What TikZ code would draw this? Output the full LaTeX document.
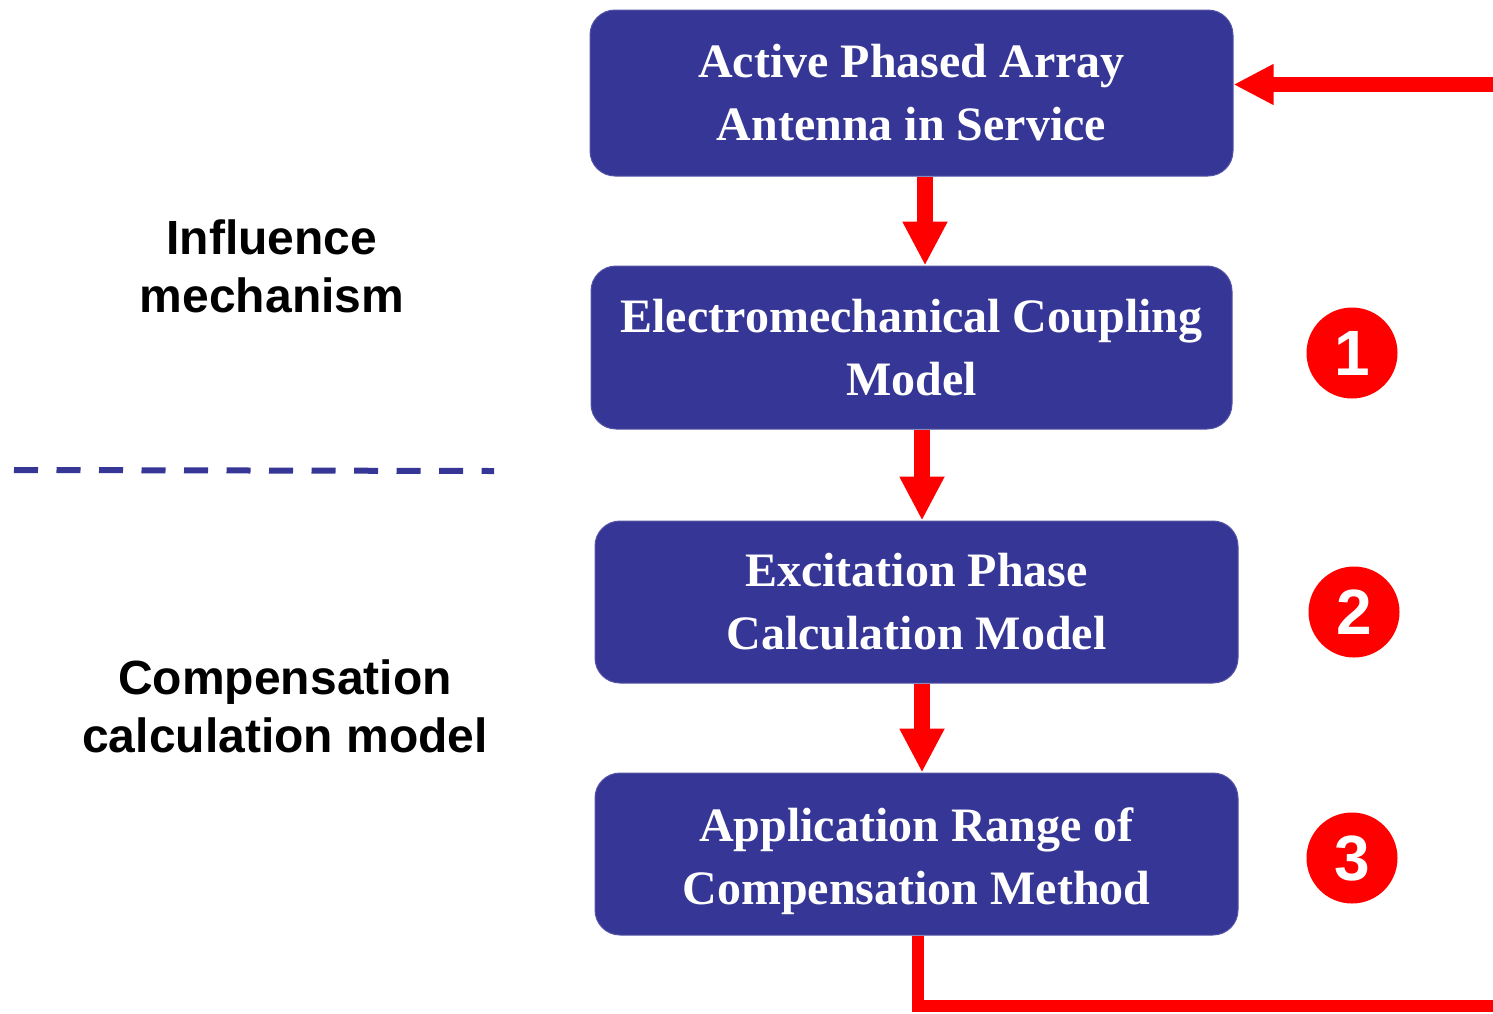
\documentclass[tikz,border=0pt]{standalone}
\usepackage{fontspec}
\setmainfont{Liberation Serif}
\newfontfamily\labelfont{Liberation Sans}
\usetikzlibrary{arrows.meta}
\definecolor{boxblue}{RGB}{54,54,150}
\definecolor{flowred}{RGB}{255,0,0}
\tikzset{
  stage/.style={rectangle, rounded corners=25pt, fill=boxblue, draw=boxblue!85!white,
    line width=1pt, text=white, align=center,
    font=\fontsize{48pt}{63pt}\selectfont\bfseries},
  stagetext/.style={text=white, align=center,
    font=\fontsize{48pt}{63pt}\selectfont\bfseries},
  flow/.style={draw=flowred, line width=16pt,
    -{Triangle[length=44pt,width=42pt]}},
  backflow/.style={draw=flowred, line width=12pt},
  badge/.style={circle, fill=flowred, minimum size=91pt, inner sep=0pt,
    text=white, font=\labelfont\fontsize{64pt}{64pt}\selectfont\bfseries},
  sidelabel/.style={align=center, text=black,
    font=\labelfont\fontsize{48pt}{58pt}\selectfont\bfseries},
  divider/.style={draw=boxblue, line width=6pt, dash pattern=on 24pt off 18.5pt}
}
\begin{document}
\begin{tikzpicture}[x=1pt, y=-1pt]
  \useasboundingbox (0,0) rectangle (1493,1013);

  % process stages
  \node[stage, minimum width=643pt, minimum height=166pt] (b1) at (911.5,93)
    {Active Phased Array\\Antenna in Service};
  \node[stage, minimum width=641pt, minimum height=163pt] (b2) at (911.5,347.5)
    {Electromechanical Coupling\\Model};
  \node[stage, minimum width=643pt, minimum height=162pt] (b3) at (916.5,602)
    {Excitation Phase\\Calculation Model};
  \node[stage, minimum width=643pt, minimum height=162pt] (b4) at (916.5,854) {};
  \node[stagetext] (t4) at (916.5,861)
    {Application Range of\\Compensation Method};

  % numbered markers
  \node[badge] (c1) at (1352,353) {1};
  \node[badge] (c2) at (1354,612) {2};
  \node[badge] (c3) at (1352,858) {3};

  % side labels and separator
  \node[sidelabel] (l1) at (272,266) {Influence\\mechanism};
  \node[sidelabel] (l2) at (285,706) {Compensation\\calculation model};
  \coordinate (d1) at (14,470);
  \coordinate (d2) at (494,471);
  \draw[divider] (d1) -- (d2);

  % forward flow
  \draw[flow] ([xshift=13.5pt]b1.south) -- ([xshift=13.5pt]b1.south |- b2.north);
  \draw[flow] ([xshift=10.5pt]b2.south) -- ([xshift=10.5pt]b2.south |- b3.north);
  \draw[flow] ([xshift=5.5pt]b3.south) -- ([xshift=5.5pt]b3.south |- b4.north);

  % feedback loop
  \coordinate (f1) at (918,1006);
  \coordinate (f2) at (1500,1006);
  \coordinate (f3) at (1500,84.5);
  \draw[backflow] ([xshift=1.5pt]b4.south) -- (f1) -- (f2);
  \draw[draw=flowred, line width=15pt, -{Triangle[length=40pt,width=38pt]}]
    (f3) -- (f3 -| b1.east);
\end{tikzpicture}
\end{document}
